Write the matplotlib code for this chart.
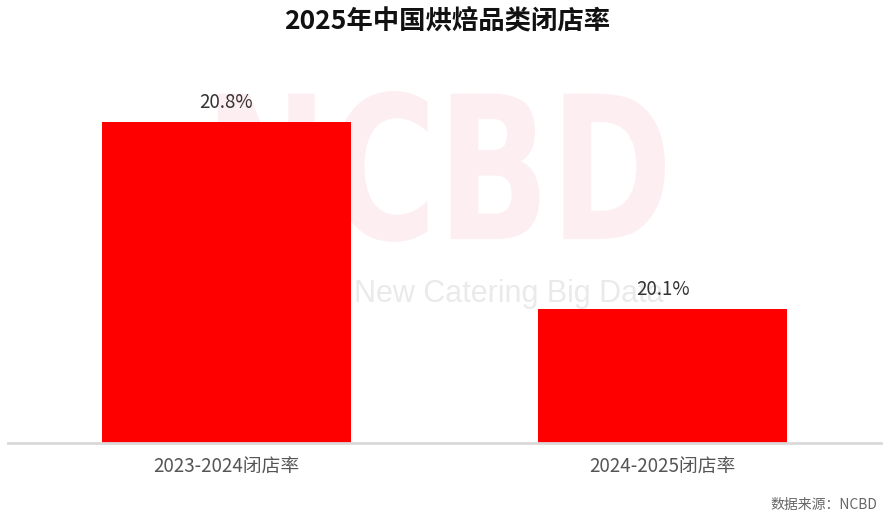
import matplotlib
matplotlib.use("Agg")
import matplotlib.pyplot as plt
from matplotlib.textpath import TextPath
from matplotlib.patches import PathPatch
from matplotlib.font_manager import FontProperties
from matplotlib.transforms import Affine2D

plt.rcParams['font.family'] = ['Noto Sans CJK SC', 'DejaVu Sans']

# data
categories = ["2023-2024闭店率", "2024-2025闭店率"]
rates = [20.8, 20.1]
labels = ["20.8%", "20.1%"]

W, H = 894, 522
fig = plt.figure(figsize=(W / 100, H / 100), dpi=100)
ax = fig.add_axes([8 / W, 79 / H, 873 / W, 374 / H])
ax.set_facecolor("none")

# ---------------------------
# WATERMARK (behind bars)
# ---------------------------
tp = TextPath((0, 0), "NCBD", size=1,
              prop=FontProperties(family="DejaVu Sans", weight="bold"))
ext = tp.get_extents()
# fit into pixel box x 218..665, y 91..242 (from top)
x0, x1, y0, y1 = 218, 665, 91, 242
sx = (x1 - x0) / W / ext.width
sy = (y1 - y0) / H / ext.height
trans = (Affine2D().translate(-ext.x0, -ext.y0).scale(sx, sy)
         .translate(x0 / W, 1 - y1 / H) + fig.transFigure)
wm = PathPatch(tp, facecolor="#fdeff1", edgecolor="none",
               transform=trans, zorder=1, clip_on=False)
ax.add_patch(wm)
ax.text(509 / W, 1 - 294 / H, "New Catering Big Data", fontsize=22,
        family=["Liberation Sans", "DejaVu Sans"], color="#eaeaea",
        ha="center", va="center", transform=fig.transFigure, zorder=1)

# ---------------------------
# BARS
# ---------------------------
x = range(len(categories))
bottom = 19.6
ax.bar(x, [r - bottom for r in rates], bottom=bottom, width=0.57,
       color="#ff0000", zorder=2)
for i, r in enumerate(rates):
    ax.text(i, r + 0.035, labels[i], ha="center", va="bottom",
            fontsize=13.5, color="#333333", zorder=3)

ax.set_xlim(-0.5, 1.5)
ax.set_ylim(bottom, 21.0)
ax.set_xticks(list(x))
ax.set_xticklabels(categories, fontsize=13.5, color="#555555")
ax.tick_params(axis="x", length=0, pad=10)
ax.set_yticks([])
for s in ["top", "right", "left"]:
    ax.spines[s].set_visible(False)
ax.spines["bottom"].set_color("#d9d9d9")
ax.spines["bottom"].set_linewidth(2)

fig.text(0.5, 1 - 22 / H, "2025年中国烘焙品类闭店率", fontsize=19,
         fontweight="bold", color="#111111", ha="center", va="center")
fig.text(877 / W, 1 - 505 / H, "数据来源：NCBD", fontsize=10,
         color="#666666", ha="right", va="center")

fig.savefig("out.png", dpi=100)
